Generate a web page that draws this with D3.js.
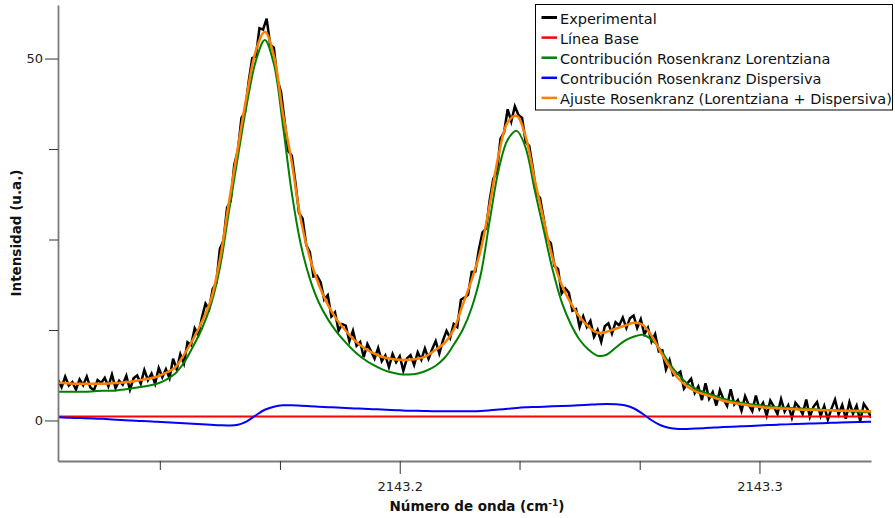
<!DOCTYPE html>
<html><head><meta charset="utf-8">
<script src="https://cdn.jsdelivr.net/npm/d3@7/dist/d3.min.js"></script>
<style>body{margin:0;background:#fff}svg{display:block}</style>
</head><body><svg id="chart" width="895" height="518"></svg>
<script>
// ---------- data (wavenumber cm-1 / intensity u.a.) ----------
const fitStart = 2143.105, fitStep = 0.0025;     // sampling of the fitted curves
const expStart = 2143.105, expStep = 0.001;      // sampling of the experimental trace

const fitValues = [5.21,5.14,5.07,5.07,5.07,5.07,5.14,5.21,5.35,5.55,5.76,6.04,6.59,7.28,9.07,11.15,13.63,16.67,22.20,30.07,37.67,44.99,51.1,53.69,50.4,42.5,35.59,27.72,22.47,18.76,16.0,13.93,12.4,11.03,10.04,9.35,8.80,8.52,8.38,8.38,8.52,8.94,9.77,10.73,12.53,15.98,19.43,23.54,29.82,36.7,41.2,42.09,39.19,33.25,27.72,22.47,18.76,16.26,14.32,12.94,12.11,12.25,12.67,13.08,13.50,13.22,11.70,9.49,7.42,5.76,4.65,3.96,3.55,3.14,2.72,2.44,2.24,2.03,1.89,1.75,1.69,1.62,1.55,1.48,1.48,1.41,1.41,1.34,1.34,1.34,1.27,1.26];

const lorentzValues = [3.96,3.96,3.96,3.96,4.03,4.10,4.10,4.24,4.38,4.59,4.79,5.07,5.62,6.45,7.97,10.18,12.67,15.98,21.09,28.83,36.42,43.74,49.68,52.58,49.27,40.84,31.4,24.3,19.6,16.3,14.0,12.2,10.75,9.5,8.5,7.7,7.1,6.65,6.4,6.35,6.5,6.9,7.56,8.66,10.46,12.53,15.57,20.12,27.6,34.63,38.77,40.01,37.67,31.87,26.35,20.81,16.39,13.36,11.15,9.77,8.94,9.08,10.04,11.01,11.56,11.84,11.15,9.77,7.83,6.31,5.07,4.31,3.83,3.41,3.0,2.65,2.44,2.24,2.10,1.96,1.82,1.75,1.69,1.62,1.55,1.48,1.41,1.34,1.27,1.20,1.13,1.10];

const dispersiveValues = [0.43,0.39,0.35,0.30,0.26,0.22,0.15,0.08,0.01,-0.06,-0.11,-0.18,-0.25,-0.32,-0.39,-0.46,-0.52,-0.59,-0.66,-0.69,-0.59,-0.11,0.72,1.48,1.89,2.09,2.10,2.04,1.98,1.91,1.84,1.78,1.73,1.67,1.62,1.56,1.51,1.45,1.40,1.35,1.33,1.30,1.28,1.27,1.26,1.26,1.27,1.31,1.40,1.51,1.62,1.73,1.81,1.86,1.91,1.95,1.99,2.04,2.11,2.18,2.25,2.29,2.25,2.10,1.69,0.93,0.03,-0.66,-1.04,-1.17,-1.17,-1.12,-1.05,-0.98,-0.91,-0.86,-0.80,-0.75,-0.69,-0.64,-0.58,-0.54,-0.50,-0.46,-0.41,-0.37,-0.33,-0.29,-0.25,-0.21,-0.17,-0.15];

const baselineX = [2143.105, 2143.331];
const baselineValues = [0.55, 0.55];

const expValues = [5.61,4.58,6.05,4.83,5.30,4.27,5.67,4.87,6.07,4.57,4.17,5.57,5.17,5.88,4.71,6.34,4.47,5.50,4.94,6.19,4.25,5.83,6.21,5.09,6.98,5.56,6.47,5.08,7.25,5.97,7.09,5.87,8.54,7.04,9.15,7.87,10.80,10.43,12.75,11.84,14.23,16.15,15.36,18.18,18.99,23.70,24.85,29.40,30.29,35.33,37.27,41.80,42.63,46.81,50.05,50.30,54.20,54.00,55.50,51.90,51.50,47.10,45.38,41.32,37.24,36.59,32.84,28.69,27.87,24.27,23.27,19.89,20.00,19.11,16.70,17.30,14.37,14.94,12.42,13.31,13.10,10.95,12.40,10.33,10.83,8.74,10.56,9.59,8.54,10.02,8.20,8.99,7.38,9.19,8.04,8.88,6.88,8.58,9.01,7.66,9.42,8.39,9.96,8.51,9.84,10.97,9.25,11.04,12.39,11.41,13.33,12.91,16.69,16.97,17.35,20.53,20.57,23.62,26.00,26.51,30.42,33.37,34.32,38.90,39.80,43.00,41.30,43.40,42.20,41.80,38.49,37.91,34.84,31.24,30.74,27.92,25.02,24.52,21.33,20.94,17.56,18.26,17.66,15.17,15.40,12.92,14.37,12.92,13.77,11.54,12.51,10.87,13.02,13.43,12.00,13.57,13.13,14.20,12.76,14.13,14.50,12.79,13.98,11.92,12.81,10.90,11.92,9.53,9.68,7.05,8.32,6.26,6.39,6.74,4.40,5.15,5.77,3.80,4.68,2.82,5.15,2.99,3.92,2.06,4.19,2.92,2.01,4.30,2.20,2.82,1.34,3.36,2.17,1.30,3.45,1.59,2.43,0.68,2.74,1.91,0.89,2.96,1.23,2.11,0.38,2.45,1.82,0.89,2.88,0.48,1.88,2.55,0.62,2.01,0.11,1.61,2.88,0.85,2.14,0.24,2.54,0.94,2.04,-0.07,2.30,1.57,0.37];

const xMajorTicks = [2143.2, 2143.3];
const xMinorTicks = [2143.1333, 2143.1667, 2143.2333, 2143.2667];
const yMajorTicks = [0, 50];
const yMinorTicks = [12.5, 25, 37.5];

const legendLabels = ["Experimental", "Línea Base", "Contribución Rosenkranz Lorentziana",
  "Contribución Rosenkranz Dispersiva", "Ajuste Rosenkranz (Lorentziana + Dispersiva)"];
const seriesColors = ["#000000", "#ff0000", "#008000", "#0000ff", "#ff8000"];

// ---------- chart ----------
const svg = d3.select("#chart");
const x = d3.scaleLinear().domain([2143.105, 2143.331]).range([58, 871]);
const y = d3.scaleLinear().domain([-5.6, 57.4]).range([461, 5]);

svg.append("rect").attr("width", 895).attr("height", 518).attr("fill", "#fff");
svg.append("defs").append("clipPath").attr("id", "clip")
  .append("rect").attr("x", 58).attr("y", 5).attr("width", 813).attr("height", 456);

const toPts = (vals, start, step) => vals.map((v, i) => [start + i * step, v]);
const expPts = toPts(expValues, expStart, expStep);
const fitPts = toPts(fitValues, fitStart, fitStep);
const lorPts = toPts(lorentzValues, fitStart, fitStep);
const disPts = toPts(dispersiveValues, fitStart, fitStep);
const basePts = baselineX.map((d, i) => [d, baselineValues[i]]);

const lineLin = d3.line().x(d => x(d[0])).y(d => y(d[1]));
const lineSmooth = d3.line().x(d => x(d[0])).y(d => y(d[1])).curve(d3.curveCatmullRom.alpha(0.5));

const plot = svg.append("g").attr("clip-path", "url(#clip)");
plot.append("path").datum(expPts).attr("d", lineLin).attr("fill", "none")
  .attr("stroke", seriesColors[0]).attr("stroke-width", 2.5).attr("stroke-linejoin", "miter");
plot.append("path").datum(basePts).attr("d", lineLin).attr("fill", "none")
  .attr("stroke", seriesColors[1]).attr("stroke-width", 2);
plot.append("path").datum(lorPts).attr("d", lineSmooth).attr("fill", "none")
  .attr("stroke", seriesColors[2]).attr("stroke-width", 2);
plot.append("path").datum(disPts).attr("d", lineSmooth).attr("fill", "none")
  .attr("stroke", seriesColors[3]).attr("stroke-width", 2);
plot.append("path").datum(fitPts).attr("d", lineSmooth).attr("fill", "none")
  .attr("stroke", seriesColors[4]).attr("stroke-width", 2.5);

// axes
const font = "'DejaVu Sans', Verdana, sans-serif";
function styleAxis(g) {
  g.select(".domain").attr("stroke", "#7a7a7a").attr("stroke-width", 1.8);
  g.selectAll(".tick line").attr("stroke", "#333").attr("stroke-width", 1);
  g.selectAll(".tick text").attr("fill", "#222").style("font-family", font).style("font-size", "13px");
}
const yMajor = svg.append("g").attr("transform", "translate(58,0)")
  .call(d3.axisLeft(y).tickValues(yMajorTicks).tickSize(13).tickSizeOuter(0).tickPadding(2).tickFormat(d3.format("d")));
styleAxis(yMajor);
const yMinor = svg.append("g").attr("transform", "translate(58,0)")
  .call(d3.axisLeft(y).tickValues(yMinorTicks).tickSize(9).tickSizeOuter(0).tickFormat(""));
yMinor.select(".domain").remove();
yMinor.selectAll(".tick line").attr("stroke", "#333");

const xMajor = svg.append("g").attr("transform", "translate(0,461)")
  .call(d3.axisBottom(x).tickValues(xMajorTicks).tickSize(13).tickSizeOuter(0).tickPadding(8).tickFormat(d3.format(".1f")));
styleAxis(xMajor);
const xMinor = svg.append("g").attr("transform", "translate(0,461)")
  .call(d3.axisBottom(x).tickValues(xMinorTicks).tickSize(9).tickSizeOuter(0).tickFormat(""));
xMinor.select(".domain").remove();
xMinor.selectAll(".tick line").attr("stroke", "#333");

// axis titles
svg.append("text").attr("transform", "translate(21,233) rotate(-90)").attr("text-anchor", "middle")
  .style("font-family", font).style("font-weight", "bold").style("font-size", "13.5px").attr("fill", "#111")
  .text("Intensidad (u.a.)");
const xt = svg.append("text").attr("x", 477).attr("y", 511).attr("text-anchor", "middle")
  .style("font-family", font).style("font-weight", "bold").style("font-size", "13.5px").attr("fill", "#111");
xt.append("tspan").text("Número de onda (cm");
xt.append("tspan").attr("dy", -5).style("font-size", "9px").text("-1");
xt.append("tspan").attr("dy", 5).text(")");

// legend
const lg = svg.append("g");
lg.append("rect").attr("x", 535.5).attr("y", 4.5).attr("width", 357).attr("height", 105.5)
  .attr("fill", "#fff").attr("stroke", "#000").attr("stroke-width", 1);
legendLabels.forEach((lab, i) => {
  const by = 24 + i * 20.1;
  lg.append("line").attr("x1", 541.5).attr("x2", 557).attr("y1", by - 6.5).attr("y2", by - 6.5)
    .attr("stroke", seriesColors[i]).attr("stroke-width", i === 0 ? 3 : 2.5);
  lg.append("text").attr("x", 560).attr("y", by).style("font-family", font).style("font-size", "14.5px")
    .attr("fill", "#111").text(lab);
});
</script></body></html>
